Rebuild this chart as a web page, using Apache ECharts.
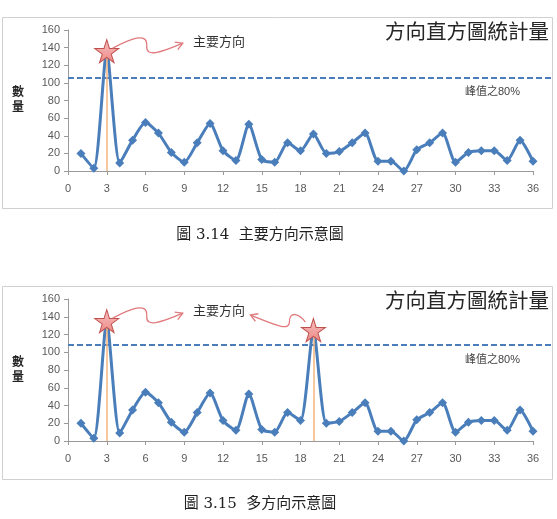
<!DOCTYPE html>
<html>
<head>
<meta charset="utf-8">
<script src="https://cdn.jsdelivr.net/npm/echarts@6/dist/echarts.min.js"></script>
<style>
  html, body { margin: 0; padding: 0; background: #fff; }
  #main { width: 557px; height: 519px; }
</style>
</head>
<body>
<div id="main"></div>
<script>
// bin index 1..36 (direction bins)
const bins = [1,2,3,4,5,6,7,8,9,10,11,12,13,14,15,16,17,18,19,20,21,22,23,24,25,26,27,28,29,30,31,32,33,34,35,36];
const countsA = [20,3,136,9,35,55,43,21,10,32,54,23,12,53,13,10,32,23,42,20,22,32,43,11,11,0,24,32,43,10,21,23,23,12,35,11];
const countsB = [20,3,135,9,35,55,43,21,10,32,54,23,12,53,13,10,32,23,125,20,22,32,43,11,11,0,24,32,43,10,21,23,23,12,35,11];
const peaksA = [3];
const peaksB = [3, 19];
const thresholds = [106, 108];
const xTicks = { min: 0, max: 36, interval: 3 };
const yTicks = { min: 0, max: 160, interval: 20 };
const chartTitle = "方向直方圖統計量";
const captions = ["圖 3.14  主要方向示意圖", "圖 3.15  多方向示意圖"];
const arrowText = "主要方向";
const thresholdText = "峰值之80%";

const BLUE = "#4a7ebb";
const FONT = "'Liberation Sans', 'Noto Sans CJK TC', sans-serif";
const STAR = "path://M50,0 L61,35 L98,35 L68,57 L79,91 L50,70 L21,91 L32,57 L2,35 L39,35 Z";

const chart = echarts.init(document.getElementById("main"));

const panels = [
  { top: 30, bottom: 348, counts: countsA, peaks: peaksA, thr: thresholds[0] },
  { top: 299, bottom: 78, counts: countsB, peaks: peaksB, thr: thresholds[1] }
];

const grids = [], xAxes = [], yAxes = [], series = [];
panels.forEach((p, i) => {
  const data = bins.map((b, k) => [b, p.counts[k]]);
  // main grid
  grids.push({ left: 68, right: 24, top: p.top, bottom: p.bottom });
  // threshold grid, reaching the frame edge
  grids.push({ left: 68, right: 5, top: p.top, bottom: p.bottom });
  xAxes.push({
    gridIndex: 2 * i, type: "value", min: xTicks.min, max: xTicks.max, interval: xTicks.interval,
    axisLine: { lineStyle: { color: "#9a9a9a" } },
    axisTick: { show: true, length: 4, lineStyle: { color: "#9a9a9a" } },
    splitLine: { show: false },
    axisLabel: { color: "#595959", fontSize: 11, margin: 12, fontFamily: FONT }
  });
  xAxes.push({ gridIndex: 2 * i + 1, type: "value", min: 0, max: 1, show: false });
  yAxes.push({
    gridIndex: 2 * i, type: "value", min: yTicks.min, max: yTicks.max, interval: yTicks.interval,
    name: "數\n量", nameLocation: "middle", nameRotate: 0, nameGap: 44,
    nameTextStyle: { fontSize: 12, fontWeight: "bold", color: "#222", lineHeight: 15, fontFamily: FONT },
    axisLine: { show: true, lineStyle: { color: "#9a9a9a" } },
    axisTick: { show: true, length: 4, lineStyle: { color: "#9a9a9a" } },
    splitLine: { show: false },
    axisLabel: { color: "#595959", fontSize: 11, margin: 8, fontFamily: FONT }
  });
  yAxes.push({ gridIndex: 2 * i + 1, type: "value", min: yTicks.min, max: yTicks.max, show: false });

  series.push({
    type: "line",
    xAxisIndex: 2 * i + 1, yAxisIndex: 2 * i + 1,
    data: [],
    silent: true,
    markLine: {
      symbol: "none", silent: true,
      lineStyle: { color: BLUE, type: [6, 3], width: 2 },
      label: {
        show: true, position: "insideEndBottom", formatter: thresholdText,
        color: "#444", fontSize: 11, fontFamily: FONT, padding: [4, 27, 0, 0]
      },
      data: [{ yAxis: p.thr }]
    }
  });
  series.push({
    type: "line",
    xAxisIndex: 2 * i, yAxisIndex: 2 * i,
    data: data,
    smooth: 0.22,
    symbol: "diamond", symbolSize: 9,
    lineStyle: { color: BLUE, width: 3 },
    itemStyle: { color: BLUE },
    z: 3,
    markLine: {
      symbol: "none", silent: true,
      lineStyle: { color: "#f4b47e", width: 1.5, type: "solid" },
      label: { show: false },
      data: p.peaks.map(b => [{ coord: [b, 0] }, { coord: [b, p.counts[b - 1]] }])
    },
    markPoint: {
      symbol: STAR, symbolSize: [24, 23], silent: true,
      itemStyle: {
        color: new echarts.graphic.LinearGradient(0, 0, 0, 1, [
          { offset: 0, color: "#f7c0bf" }, { offset: 1, color: "#ec8a88" }
        ]),
        borderColor: "#c0504d", borderWidth: 1
      },
      label: { show: false },
      data: p.peaks.map(b => ({ coord: [b, p.counts[b - 1]] }))
    }
  });
});

const frameGraphics = [
  { type: "rect", shape: { x: 2.5, y: 17.5, width: 550, height: 191 }, style: { fill: "none", stroke: "#d0d0d0", lineWidth: 1 }, z: -1 },
  { type: "rect", shape: { x: 2.5, y: 286.5, width: 550, height: 193 }, style: { fill: "none", stroke: "#d0d0d0", lineWidth: 1 }, z: -1 },
  { type: "text", right: 8, top: 21, style: { text: chartTitle, font: "20.5px 'Noto Sans CJK TC', sans-serif", fill: "#262626" } },
  { type: "text", right: 8, top: 290, style: { text: chartTitle, font: "20.5px 'Noto Sans CJK TC', sans-serif", fill: "#262626" } },
  { type: "text", left: 193, top: 35, style: { text: arrowText, font: "13px 'Noto Sans CJK TC', sans-serif", fill: "#333" } },
  { type: "text", left: 193, top: 304, style: { text: arrowText, font: "13px 'Noto Sans CJK TC', sans-serif", fill: "#333" } },
  { type: "text", x: 260, y: 235, style: { text: captions[0], font: "15px 'DejaVu Serif', 'Noto Sans CJK TC', serif", fill: "#222", textAlign: "center", textVerticalAlign: "middle" } },
  { type: "text", x: 260, y: 504, style: { text: captions[1], font: "15px 'DejaVu Serif', 'Noto Sans CJK TC', serif", fill: "#222", textAlign: "center", textVerticalAlign: "middle" } }
];

chart.setOption({
  animation: false,
  textStyle: { fontFamily: FONT },
  grid: grids,
  xAxis: xAxes,
  yAxis: yAxes,
  series: series,
  graphic: frameGraphics
});

// curved callout arrows, anchored at the stars (offsets relative to the star centre)
function arrow(center, curves, wings) {
  const style = { fill: "none", stroke: "#e07a7d", lineWidth: 1.3 };
  const out = curves.map(c => ({
    type: "bezierCurve", x: center[0], y: center[1],
    shape: { x1: c[0], y1: c[1], cpx1: c[2], cpy1: c[3], cpx2: c[4], cpy2: c[5], x2: c[6], y2: c[7] },
    style: style, z: 10
  }));
  out.push({ type: "polyline", x: center[0], y: center[1], shape: { points: wings }, style: style, z: 10 });
  return out;
}
const s1 = chart.convertToPixel({ gridIndex: 0 }, [peaksA[0], countsA[peaksA[0] - 1]]);
const s2 = chart.convertToPixel({ gridIndex: 2 }, [peaksB[0], countsB[peaksB[0] - 1]]);
const s3 = chart.convertToPixel({ gridIndex: 2 }, [peaksB[1], countsB[peaksB[1] - 1]]);
const rightCurves = [[6, -3, 23, -12, 41, -20, 40, -5], [40, -5, 39, 6, 53, 2, 76, -8]];
const rightWings = [[68, -9], [76, -8], [71, -1.5]];
const leftCurves = [[-8, -8, -14, -16, -24, -20, -24, -8], [-24, -8, -24, 2, -40, -6, -63, -15]];
const leftWings = [[-58, -8.8], [-63, -15], [-55, -16.3]];
chart.setOption({
  graphic: frameGraphics.concat(
    arrow(s1, rightCurves, rightWings),
    arrow(s2, rightCurves, rightWings),
    arrow(s3, leftCurves, leftWings)
  )
});
</script>
</body>
</html>
